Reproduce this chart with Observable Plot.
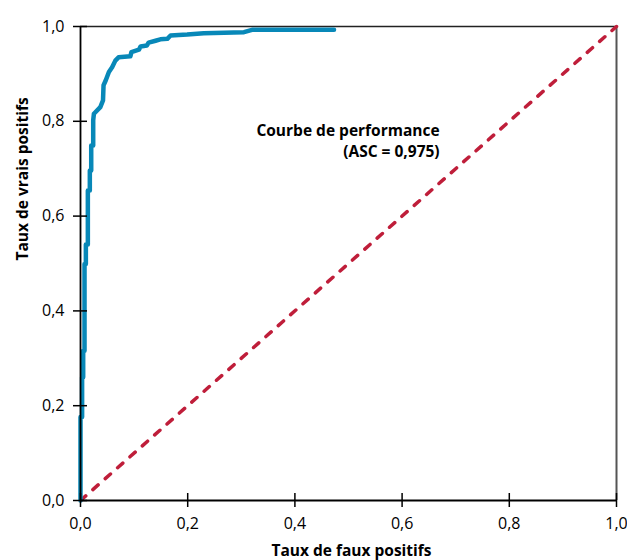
<!DOCTYPE html>
<html>
<head>
<meta charset="utf-8">
<script src="https://cdn.jsdelivr.net/npm/d3@7"></script>
<script src="https://cdn.jsdelivr.net/npm/@observablehq/plot@0.6"></script>
<style>
  html, body { margin: 0; padding: 0; background: #fff; }
  svg { font-family: "Open Sans", sans-serif; }
</style>
</head>
<body>
<div id="chart"></div>
<script>
// ROC curve vertices (false positive rate, true positive rate)
const fpr = [0, 0, 0.003, 0.003, 0.005, 0.005, 0.0075, 0.0075, 0.010, 0.010, 0.0137, 0.0137, 0.0174, 0.0174, 0.020, 0.020, 0.0237, 0.0237, 0.025, 0.037, 0.042, 0.043, 0.047, 0.053, 0.059, 0.065, 0.071, 0.093, 0.095, 0.109, 0.112, 0.124, 0.127, 0.140, 0.149, 0.162, 0.168, 0.199, 0.230, 0.305, 0.320, 0.473];
const tpr = [0, 0.176, 0.176, 0.26, 0.26, 0.316, 0.316, 0.499, 0.499, 0.54, 0.54, 0.654, 0.654, 0.696, 0.696, 0.749, 0.749, 0.802, 0.816, 0.830, 0.844, 0.876, 0.886, 0.904, 0.914, 0.928, 0.935, 0.937, 0.946, 0.951, 0.958, 0.960, 0.966, 0.970, 0.973, 0.974, 0.981, 0.983, 0.986, 0.988, 0.993, 0.993];
// chance diagonal
const diagX = [0, 1];
const diagY = [0, 1];
// ticks
const xTicks = [0, 0.2, 0.4, 0.6, 0.8, 1.0];
const yTicks = [0, 0.2, 0.4, 0.6, 0.8, 1.0];
// texts
const xLabel = "Taux de faux positifs";
const yLabel = "Taux de vrais positifs";
const annotationText = "Courbe de performance\n(ASC = 0,975)";
const annotationX = 0.670;
const annotationY = 0.800;

const roc = fpr.map((x, i) => ({x, y: tpr[i]}));
const diag = diagX.map((x, i) => ({x, y: diagY[i]}));
const fmt = d => d.toFixed(1).replace(".", ",");

const W = 627, H = 560, mL = 80, mR = 11, mT = 26, mB = 60;
const fw = W - mL - mR, fh = H - mT - mB;

const chart = Plot.plot({
  width: W,
  height: H,
  marginLeft: mL,
  marginRight: mR,
  marginTop: mT,
  marginBottom: mB,
  style: {fontFamily: "'Open Sans', sans-serif", fontSize: "16px", color: "#000", background: "#fff"},
  x: {domain: [0, 1]},
  y: {domain: [0, 1]},
  marks: [
    Plot.ruleY([1], {stroke: "#222", strokeWidth: 1.5}),
    Plot.ruleX([1], {stroke: "#555", strokeWidth: 2}),
    Plot.line(diag, {x: "x", y: "y", stroke: "#BF1E3A", strokeWidth: 3.5, strokeDasharray: "7,9.5", strokeLinecap: "round"}),
    Plot.line(roc, {x: "x", y: "y", stroke: "#0888B8", strokeWidth: 4.5, strokeLinejoin: "round"}),
    Plot.ruleX([0], {stroke: "#000", strokeWidth: 1.8}),
    Plot.ruleY([0], {stroke: "#000", strokeWidth: 1.8}),
    Plot.axisX(xTicks, {tickSize: 7, tickPadding: 10, tickFormat: fmt, fontSize: 16, label: null, strokeWidth: 1.5}),
    Plot.axisY(yTicks, {tickSize: 7, tickPadding: 9, tickFormat: fmt, fontSize: 16, label: null, strokeWidth: 1.5}),
    Plot.tickX(xTicks, {x: d => d, insetTop: fh - 7, strokeWidth: 1.5}),
    Plot.tickY(yTicks, {y: d => d, insetRight: fw - 7, strokeWidth: 1.5}),
    Plot.text([xLabel], {frameAnchor: "bottom", text: d => d, dy: 44, dx: 3, lineAnchor: "top", fontWeight: "bold", fontSize: 15.5}),
    Plot.text([yLabel], {frameAnchor: "left", text: d => d, rotate: -90, dx: -57, dy: -3, fontWeight: "bold", fontSize: 15.5}),
    Plot.text([annotationText], {x: annotationX, y: annotationY, text: d => d, textAnchor: "end", lineAnchor: "top", lineHeight: 1.35, fontWeight: "bold", fontSize: 15.5})
  ]
});
document.getElementById("chart").appendChild(chart);
</script>
</body>
</html>
